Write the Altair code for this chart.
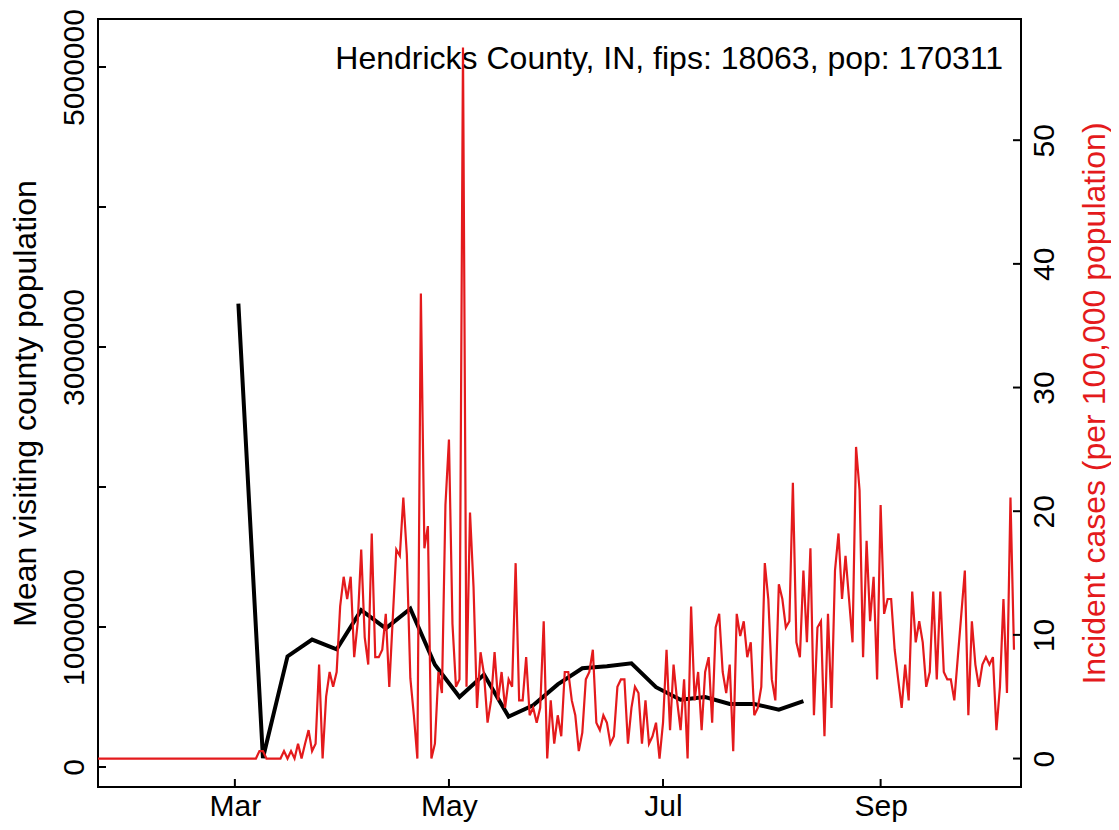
import altair as alt
import pandas as pd

# ---------------- data ----------------
red_start = "2020-01-22"   # daily incident cases per 100,000, Jan 22 .. Oct 10
red_values = [
    0, 0, 0, 0, 0, 0, 0, 0, 0, 0,            # Jan 22 - Jan 31
    0, 0, 0, 0, 0, 0, 0, 0, 0, 0,            # Feb 1 - Feb 10
    0, 0, 0, 0, 0, 0, 0, 0, 0, 0,            # Feb 11 - Feb 20
    0, 0, 0, 0, 0, 0, 0, 0, 0,               # Feb 21 - Feb 29
    0, 0, 0, 0, 0, 0, 0,                     # Mar 1 - Mar 7
    0.6, 0.6, 0, 0, 0, 0, 0, 0.6, 0, 0.6,    # Mar 8 - Mar 17
    0, 1.2, 0, 1.2, 2.3, 0.6, 1.2, 7.6, 0, 5.0,
    7.0, 5.8, 7.0, 12.3, 14.7, 12.9, 14.7, 8.2, 11.0, 16.9,
    9.8, 7.6, 18.2, 8.2, 8.2, 8.8, 11.7, 5.8, 11.4, 16.9,
    16.4, 21.1, 16.5, 6.5, 3.5, 0, 37.6, 17.0, 18.8, 0,
    1.2, 7.0, 5.3, 20.5, 25.8, 10.9, 5.8, 6.4, 57.5, 5.8,
    19.9, 13.9, 4.1, 8.6, 6.8, 2.9, 4.7, 8.6, 4.7, 7.0,
    4.1, 6.4, 5.8, 15.8, 4.7, 4.7, 8.2, 3.5, 4.1, 2.9,
    4.1, 11.1, 0, 4.7, 1.2, 3.5, 1.8, 7.0, 7.0, 4.7,
    3.5, 0.6, 2.1, 6.4, 7.0, 8.8, 2.9, 2.3, 3.5, 2.9,
    1.2, 1.8, 5.8, 6.4, 6.4, 1.2, 4.1, 5.8, 5.3, 1.2,
    4.7, 1.2, 1.8, 2.9, 0, 2.9, 8.8, 2.3, 7.6, 4.7,
    2.3, 6.4, 0, 12.3, 4.7, 7.0, 2.3, 7.0, 8.2, 2.9,
    10.6, 11.7, 7.0, 5.3, 7.6, 0.6, 11.7, 9.9, 11.1, 8.2,
    9.4, 3.5, 4.1, 5.8, 15.8, 12.9, 6.4, 4.7, 14.1, 12.9,
    10.6, 11.1, 22.3, 9.4, 8.2, 15.2, 9.4, 17.0, 3.5, 10.6,
    11.1, 1.8, 11.7, 4.1, 15.2, 18.2, 12.9, 16.4, 12.9, 9.4,
    25.2, 21.7, 8.2, 17.6, 11.1, 14.7, 6.4, 20.5, 11.7, 12.9,
    12.9, 8.8, 6.4, 4.1, 7.6, 4.7, 13.5, 9.4, 11.1, 9.4,
    5.8, 7.0, 13.5, 6.4, 13.5, 7.0, 6.4, 6.4, 4.7, 8.2,
    11.7, 15.2, 3.5, 11.1, 7.6, 5.8, 7.6, 8.2, 7.6, 8.2,
    2.3, 5.8, 12.9, 5.3, 21.1, 8.8,
]

visit_dates = [
    "2020-03-02", "2020-03-09", "2020-03-16", "2020-03-23", "2020-03-30",
    "2020-04-06", "2020-04-13", "2020-04-20", "2020-04-27", "2020-05-04",
    "2020-05-11", "2020-05-18", "2020-05-25", "2020-06-01", "2020-06-08",
    "2020-06-15", "2020-06-22", "2020-06-29", "2020-07-06", "2020-07-13",
    "2020-07-20", "2020-07-27", "2020-08-03", "2020-08-10",
]
visit_values = [
    3310000, 64000, 790000, 910000, 840000,
    1120000, 990000, 1130000, 730000, 500000,
    660000, 360000, 440000, 590000, 705000,
    720000, 740000, 570000, 480000, 500000,
    450000, 450000, 410000, 470000,
]

left_ticks = [0, 1000000, 2000000, 3000000, 4000000, 5000000]
right_ticks = [0, 10, 20, 30, 40, 50]
month_ticks = ["2020-03-01", "2020-05-01", "2020-07-01", "2020-09-01"]
title_text = "Hendricks County, IN, fips: 18063, pop: 170311"
left_title = "Mean visiting county population"
right_title = "Incident cases (per 100,000 population)"

# ---------------- styling ----------------
W, H = 923, 768
FONT = "Liberation Sans"
RED = "#E41A1C"
FS_LABEL = 30
FS_TITLE = 32

red_df = pd.DataFrame({
    "date": pd.date_range(red_start, periods=len(red_values), freq="D"),
    "cases": red_values,
})
visit_df = pd.DataFrame({"date": pd.to_datetime(visit_dates), "visitors": visit_values})
lt_df = pd.DataFrame({"visitors": left_ticks})
rt_df = pd.DataFrame({"cases": right_ticks})
mt_df = pd.DataFrame({"date": pd.to_datetime(month_ticks)})
title_df = pd.DataFrame({"label": [title_text]})

x_enc = alt.X(
    "date:T",
    scale=alt.Scale(domain=[alt.DateTime(year=2020, month=1, date=22),
                            alt.DateTime(year=2020, month=10, date=11)]),
    axis=alt.Axis(
        values=[alt.DateTime(year=2020, month=m, date=1) for m in (3, 5, 7, 9)],
        format="%b", title=None, grid=False, ticks=False, tickSize=0, domain=False,
        labelFont=FONT, labelFontSize=FS_LABEL, labelColor="black",
        labelAlign="center", labelBaseline="alphabetic", labelPadding=28,
        labelFlush=False, labelOverlap=False,
    ),
)

yl = alt.Y(
    "visitors:Q",
    scale=alt.Scale(domain=[-143000, 5343000], nice=False, zero=False),
    axis=alt.Axis(
        values=left_ticks, format="d",
        labelExpr="(datum.value == 2000000 || datum.value == 4000000) ? '' : datum.label",
        grid=False, ticks=False, tickSize=0, domain=False,
        labelFont=FONT, labelFontSize=FS_LABEL, labelColor="black",
        labelAngle=270, labelAlign="center", labelBaseline="alphabetic",
        labelPadding=15, labelOverlap=False, labelFlush=False,
        title=left_title, titleFont=FONT, titleFontSize=FS_TITLE,
        titleFontWeight="normal", titleColor="black", titleAngle=270,
        titleAlign="center", titleBaseline="alphabetic", titleX=-63, titleY=H / 2,
    ),
)

yr = alt.Y(
    "cases:Q",
    scale=alt.Scale(domain=[-2.3, 59.8], nice=False, zero=False),
    axis=alt.Axis(
        orient="right", values=right_ticks, format="d",
        grid=False, ticks=False, tickSize=0, domain=False,
        labelFont=FONT, labelFontSize=FS_LABEL, labelColor="black",
        labelAngle=270, labelAlign="center", labelBaseline="alphabetic",
        labelPadding=32, labelOverlap=False, labelFlush=False,
        title=right_title, titleFont=FONT, titleFontSize=FS_TITLE,
        titleFontWeight="normal", titleColor=RED, titleAngle=270,
        titleAlign="center", titleBaseline="alphabetic", titleX=83, titleY=H / 2,
    ),
)

black_line = alt.Chart(visit_df).mark_line(color="black", strokeWidth=4).encode(x=x_enc, y=yl)
left_tick_rules = alt.Chart(lt_df).mark_rule(color="black", strokeWidth=2).encode(
    y=yl, x=alt.value(0), x2=alt.value(8))
month_tick_rules = alt.Chart(mt_df).mark_rule(color="black", strokeWidth=2).encode(
    x=x_enc, y=alt.value(H), y2=alt.value(H - 8))
title_mark = alt.Chart(title_df).mark_text(
    font=FONT, fontSize=FS_TITLE, align="right", baseline="alphabetic", color="black"
).encode(text="label:N", x=alt.value(W - 18), y=alt.value(50))

left_group = alt.layer(black_line, left_tick_rules, month_tick_rules, title_mark)

red_line = alt.Chart(red_df).mark_line(color=RED, strokeWidth=2.2).encode(x=x_enc, y=yr)
right_tick_rules = alt.Chart(rt_df).mark_rule(color="black", strokeWidth=2).encode(
    y=yr, x=alt.value(W - 8), x2=alt.value(W))

right_group = alt.layer(red_line, right_tick_rules)

chart = (
    alt.layer(left_group, right_group)
    .resolve_scale(y="independent")
    .properties(
        width=W, height=H,
        autosize=alt.AutoSizeParams(type="none"),
        padding={"left": 90, "top": 11, "right": 90, "bottom": 35},
        background="white",
    )
    .configure_view(stroke="black", strokeWidth=2)
)

chart.save("out.html", embed_options={"renderer": "svg", "actions": False})
